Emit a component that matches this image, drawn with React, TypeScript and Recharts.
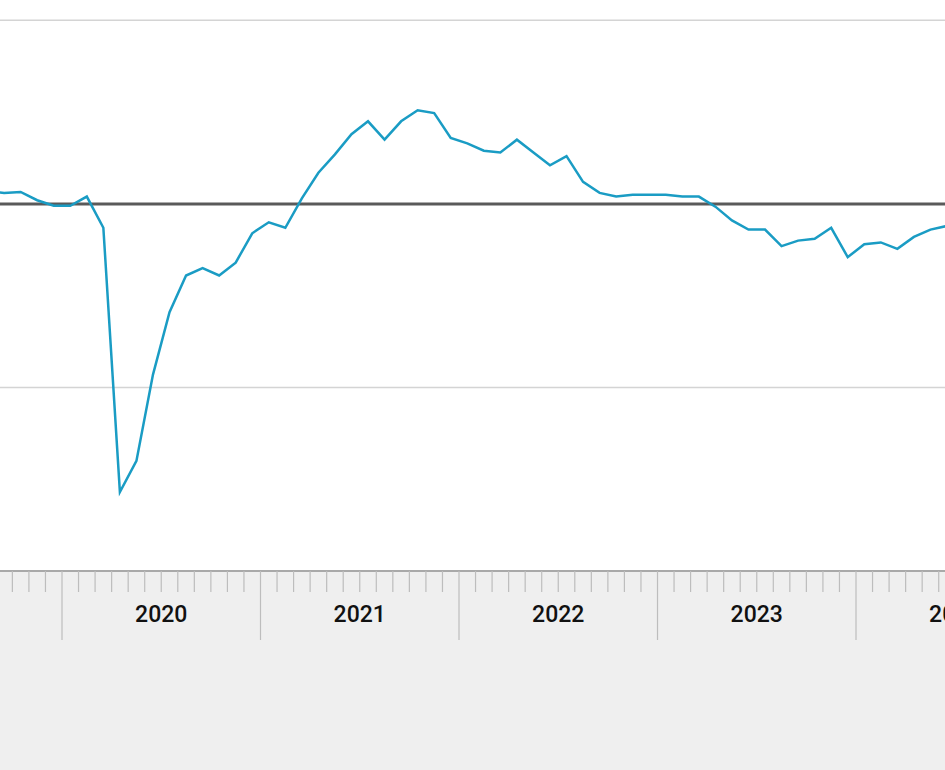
import { CartesianGrid, Line, LineChart, ReferenceLine, XAxis, YAxis } from "recharts";

// monthly index values, Aug 2019 .. Jun 2024
const months = [
  "2019-08", "2019-09", "2019-10", "2019-11", "2019-12",
  "2020-01", "2020-02", "2020-03", "2020-04", "2020-05", "2020-06",
  "2020-07", "2020-08", "2020-09", "2020-10", "2020-11", "2020-12",
  "2021-01", "2021-02", "2021-03", "2021-04", "2021-05", "2021-06",
  "2021-07", "2021-08", "2021-09", "2021-10", "2021-11", "2021-12",
  "2022-01", "2022-02", "2022-03", "2022-04", "2022-05", "2022-06",
  "2022-07", "2022-08", "2022-09", "2022-10", "2022-11", "2022-12",
  "2023-01", "2023-02", "2023-03", "2023-04", "2023-05", "2023-06",
  "2023-07", "2023-08", "2023-09", "2023-10", "2023-11", "2023-12",
  "2024-01", "2024-02", "2024-03", "2024-04", "2024-05", "2024-06",
];

const values = [
  100.7, 100.6, 100.65, 100.2, 99.9,
  99.9, 100.4, 98.7, 84.3, 86.0, 90.7,
  94.1, 96.1, 96.5, 96.1, 96.8, 98.4,
  99.0, 98.7, 100.3, 101.7, 102.7, 103.8,
  104.5, 103.5, 104.5, 105.1, 104.95, 103.6,
  103.3, 102.9, 102.8, 103.5, 102.8, 102.1,
  102.6, 101.2, 100.6, 100.4, 100.5, 100.5,
  100.5, 100.4, 100.4, 99.85, 99.1, 98.6,
  98.6, 97.7, 98.0, 98.1, 98.7, 97.1,
  97.8, 97.9, 97.55, 98.2, 98.6, 98.8,
];

const yearLabels = ["2020", "2021", "2022", "2023", "2024"];
const baseline = 100;
const gridValues = [90, 110];

const W = 945;
const X_DOMAIN: [number, number] = [-3.748, 53.38];
const PX_PER_MONTH = W / (X_DOMAIN[1] - X_DOMAIN[0]);

// months since Jan 2020, centred on the month
const toT = (m: string) => {
  const [y, mo] = m.split("-").map(Number);
  return (y - 2020) * 12 + (mo - 1) + 0.5;
};

const data = months.map((m, i) => ({ t: toT(m), value: values[i] }));

const monthTicks: number[] = [];
for (let t = -3; t <= 53; t++) monthTicks.push(t);

function MonthTick(props: any) {
  const { x, y, payload } = props;
  const t = payload.value as number;
  const major = ((t % 12) + 12) % 12 === 0;
  // year label sits in the middle of the year band, i.e. six months right of the boundary
  const label = major ? yearLabels[t / 12] : null;
  return (
    <g>
      <line x1={x} x2={x} y1={y} y2={y + (major ? 69 : 21)} stroke="#bdbdbd" strokeWidth={1.2} />
      {label && (
        <text
          x={x + 6 * PX_PER_MONTH}
          y={y + 51}
          textAnchor="middle"
          fill="#111"
          fontSize={23}
          fontWeight={500}
          fontFamily="Roboto, sans-serif"
        >
          {label}
        </text>
      )}
    </g>
  );
}

export default function App() {
  return (
    <div
      style={{
        position: "absolute",
        left: 0,
        top: 0,
        width: W,
        height: 770,
        background: "linear-gradient(#ffffff 0px, #ffffff 572px, #efefef 572px)",
      }}
    >
      <LineChart width={W} height={770} data={data} margin={{ top: 2, right: 0, bottom: 0, left: 0 }}>
        <CartesianGrid vertical={false} stroke="#d4d4d4" strokeWidth={1.5} horizontalValues={gridValues} />
        <XAxis
          type="number"
          dataKey="t"
          domain={X_DOMAIN}
          allowDataOverflow
          ticks={monthTicks}
          interval={0}
          height={199}
          tickSize={0}
          tickMargin={0}
          tickLine={false}
          axisLine={{ stroke: "#8c8c8c", strokeWidth: 1.5 }}
          tick={<MonthTick />}
        />
        <YAxis hide domain={[80, 111]} ticks={gridValues} allowDataOverflow />
        <ReferenceLine y={baseline} stroke="#5a5a5a" strokeWidth={3} />
        <Line
          type="linear"
          dataKey="value"
          stroke="#1a9cc4"
          strokeWidth={2.5}
          dot={false}
          isAnimationActive={false}
        />
      </LineChart>
    </div>
  );
}
